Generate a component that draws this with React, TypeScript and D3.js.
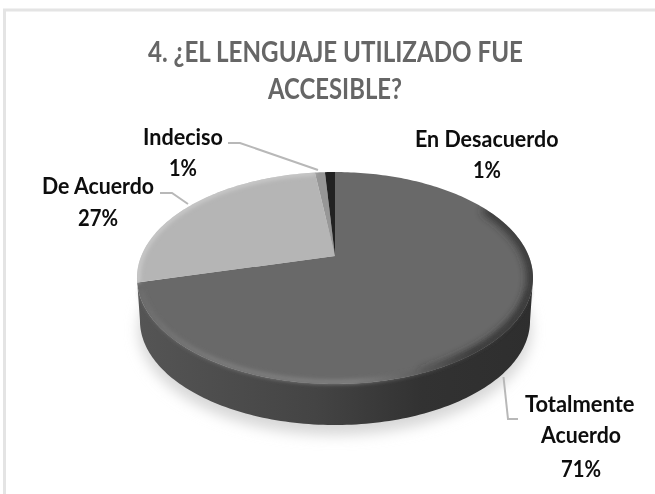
import React from "react";
import * as d3 from "d3";

const categories = ["Totalmente Acuerdo", "De Acuerdo", "Indeciso", "En Desacuerdo"];
const shares = [71, 27, 1, 1];
const sliceColors = ["#696969", "#b5b5b5", "#979797", "#222222"];

const titleLines = [
  { text: "4. ¿EL LENGUAJE UTILIZADO FUE", x: 148, w: 375, y: 61.5 },
  { text: "ACCESIBLE?", x: 268, w: 134, y: 99 },
];
const labelLines = [
  { text: "Indeciso", x: 143, w: 80, y: 145 },
  { text: "1%", x: 169, w: 28, y: 176 },
  { text: "En Desacuerdo", x: 415, w: 143.5, y: 146.5 },
  { text: "1%", x: 473, w: 28, y: 178 },
  { text: "De Acuerdo", x: 42, w: 112, y: 194 },
  { text: "27%", x: 78, w: 40, y: 226 },
  { text: "Totalmente", x: 525, w: 109.5, y: 412 },
  { text: "Acuerdo", x: 541, w: 80, y: 443 },
  { text: "71%", x: 561, w: 40, y: 476.5 },
];
const leaders = [
  [[228, 143], [240, 143], [318, 170]],
  [[160, 193], [172, 193], [188, 204]],
  [[503.5, 377], [508, 419], [518, 419]],
];

const cx = 335;
const tipY = 256;
const persp = 0.2076;
const ax = 193.7;
const by = 101.4;
const depth = 43;

const project = (a: number, dy = 0, k = 1): [number, number] => {
  const X = Math.sin(a);
  const Y = Math.cos(a);
  const w = 1 + persp * Y;
  return [cx + (k * ax * X) / w, tipY + dy - (k * by * Y) / w];
};
const sweep = (a0: number, a1: number, dy = 0, k = 1): [number, number][] => {
  const n = Math.max(2, Math.ceil(Math.abs(a1 - a0) / 0.02));
  return d3.range(n + 1).map((i) => project(a0 + ((a1 - a0) * i) / n, dy, k));
};

const line = d3.line();
const arcs = d3.pie<number>().sort(null)(shares);
const widest = Math.acos(-persp);
const sideA0 = widest;
const sideA1 = 2 * Math.PI - widest;
const sidePath =
  line([...sweep(sideA0, sideA1), ...sweep(sideA1, sideA0, depth, 0.985)])! + "Z";
const rimPath = line(sweep(sideA0 + 0.12, sideA1 - 0.12, 0, 0.985))!;
const darkRimPath = line(sweep(sideA0 - 0.75, sideA0 + 1.0, 0, 0.995))!;
const lightRimPath = line(sweep(arcs[1].startAngle, arcs[1].endAngle, 0, 0.995))!;
const outline = line(sweep(0, 2 * Math.PI))! + "Z";
const shadowPath = line(sweep(0, 2 * Math.PI, depth + 9, 0.99))! + "Z";

const textStyle = { fontFamily: "Lato, 'Noto Sans', sans-serif", fontWeight: 700 };

export default function App() {
  return (
    <svg
      width={655}
      height={494}
      style={{ position: "absolute", left: 0, top: 0, background: "#fff" }}
    >
      <defs>
        <filter id="soft" x="-20%" y="-20%" width="140%" height="140%">
          <feGaussianBlur stdDeviation="7" />
        </filter>
        <filter id="rimBlur" filterUnits="userSpaceOnUse" x={100} y={150} width={460} height={300}>
          <feGaussianBlur stdDeviation="2.2" />
        </filter>
        <filter id="darkBlur" filterUnits="userSpaceOnUse" x={100} y={150} width={460} height={300}>
          <feGaussianBlur stdDeviation="4" />
        </filter>
        <filter id="txt" x="-10%" y="-30%" width="120%" height="160%">
          <feGaussianBlur stdDeviation="0.5" />
        </filter>
        <linearGradient id="side" x1="0" x2="1" y1="0" y2="0">
          <stop offset="0" stopColor="#555555" />
          <stop offset="0.45" stopColor="#444444" />
          <stop offset="0.72" stopColor="#323232" />
          <stop offset="1" stopColor="#2e2e2e" />
        </linearGradient>
        <linearGradient id="rim" gradientUnits="userSpaceOnUse" x1={137} x2={533} y1={0} y2={0}>
          <stop offset="0" stopColor="#6e6e6e" />
          <stop offset="0.2" stopColor="#808080" />
          <stop offset="0.55" stopColor="#868686" />
          <stop offset="0.72" stopColor="#5a5a5a" />
          <stop offset="0.85" stopColor="#3e3e3e" />
        </linearGradient>
        <linearGradient id="darkRim" gradientUnits="userSpaceOnUse" x1={400} x2={533} y1={0} y2={0}>
          <stop offset="0" stopColor="#2e2e2e" stopOpacity={0} />
          <stop offset="0.5" stopColor="#2e2e2e" stopOpacity={0.9} />
          <stop offset="1" stopColor="#2e2e2e" />
        </linearGradient>
        <clipPath id="top">
          <path d={outline} />
        </clipPath>
      </defs>

      <path d="M4.5 494V10H655" fill="none" stroke="#e4e4e4" strokeWidth={3} />

      <path d={shadowPath} fill="#d6d6d6" filter="url(#soft)" />
      <path d={sidePath} fill="url(#side)" />

      {arcs.map((d, i) => (
        <path
          key={categories[i]}
          d={line([[cx, tipY], ...sweep(d.startAngle, d.endAngle)])! + "Z"}
          fill={sliceColors[i]}
        />
      ))}
      <g clipPath="url(#top)">
        <path d={lightRimPath} fill="none" stroke="#cdcdcd" strokeWidth={4} filter="url(#rimBlur)" />
        <path d={darkRimPath} fill="none" stroke="url(#darkRim)" strokeWidth={9} filter="url(#darkBlur)" />
      </g>
      <path d={rimPath} fill="none" stroke="url(#rim)" strokeWidth={4} filter="url(#rimBlur)" />

      {leaders.map((pts, i) => (
        <path
          key={i}
          d={line(pts as [number, number][])!}
          fill="none"
          stroke="#b8b8b8"
          strokeWidth={2}
        />
      ))}

      <g filter="url(#txt)">
        {titleLines.map((t) => (
          <text
            key={t.text}
            x={t.x}
            y={t.y}
            textLength={t.w}
            lengthAdjust="spacingAndGlyphs"
            fontSize={28}
            fill="#666666"
            style={textStyle}
          >
            {t.text}
          </text>
        ))}
        {labelLines.map((t) => (
          <text
            key={t.text + t.x}
            x={t.x}
            y={t.y}
            textLength={t.w}
            lengthAdjust="spacingAndGlyphs"
            fontSize={23}
            fill="#0a0a0a"
            style={textStyle}
          >
            {t.text}
          </text>
        ))}
      </g>
    </svg>
  );
}
